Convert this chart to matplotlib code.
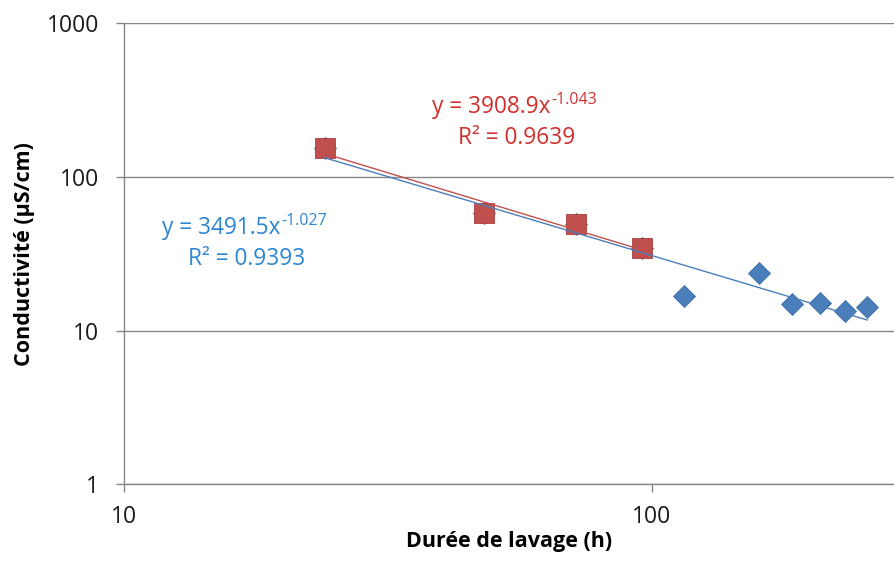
import numpy as np
import matplotlib
matplotlib.use("Agg")
import matplotlib.pyplot as plt
from matplotlib.ticker import FixedLocator, NullLocator

plt.rcParams['font.family'] = ['Open Sans', 'DejaVu Sans']

# ========== données ==========
duree_all = [24, 48, 72, 96, 115, 160, 184, 208, 232, 256]
cond_all = [155, 58.3, 49.2, 34.7, 16.8, 23.7, 14.9, 15.1, 13.4, 14.3]
duree_sub = [24, 48, 72, 96]
cond_sub = [155, 58.3, 49.2, 34.7]

# coefficients des courbes de tendance
fit_all = (3491.5, -1.027, 0.9393)
fit_sub = (3908.9, -1.043, 0.9639)
# =============================

blue = '#4A7EBB'
red = '#C0504D'
grid_col = '#868686'
W, H = 895, 561

fig = plt.figure(figsize=(W / 100, H / 100), dpi=100)
ax = fig.add_axes([0.1385, 0.1365, 0.8615, 0.822])
ax.set_xscale('log')
ax.set_yscale('log')
ax.set_xlim(10, 289)
ax.set_ylim(1, 1000)

# points
ax.plot(duree_all, cond_all, linestyle='none', marker='D', markersize=11.7,
        color=blue, markeredgecolor='#3F6FA8', markeredgewidth=0.6, zorder=3)
ax.plot(duree_sub, cond_sub, linestyle='none', marker='s', markersize=15,
        color=red, markeredgecolor='#A5403D', markeredgewidth=0.6, zorder=4)

# courbes de tendance
xa = np.array([min(duree_all), max(duree_all)])
ax.plot(xa, fit_all[0] * xa ** fit_all[1], color=blue, lw=1.0, zorder=5)
xs = np.array([min(duree_sub), max(duree_sub)])
ax.plot(xs, fit_sub[0] * xs ** fit_sub[1], color=red, lw=1.0, zorder=5)


# étiquettes des équations (exposant en petit, décalé vers le haut)
def equation(x_px, base_px, coef, expo, col):
    t = fig.text(x_px / W, 1 - base_px / H, f"y = {coef}x", color=col,
                 fontsize=16.3, ha='left', va='baseline')
    fig.canvas.draw()
    bb = t.get_window_extent()
    fig.text(bb.x1 / W + 0.001, 1 - (base_px - 9) / H, f"{expo}", color=col,
             fontsize=11.5, ha='left', va='baseline')


equation(432, 113, fit_sub[0], fit_sub[1], '#D0302E')
fig.text(517 / W, 1 - 144 / H, f"R² = {fit_sub[2]}", color='#D0302E',
         fontsize=16.3, ha='center', va='baseline')
equation(162, 234, fit_all[0], fit_all[1], '#2C86D2')
fig.text(247 / W, 1 - 265 / H, f"R² = {fit_all[2]}", color='#2C86D2',
         fontsize=16.3, ha='center', va='baseline')

# axes
ax.yaxis.set_major_locator(FixedLocator([1, 10, 100, 1000]))
ax.xaxis.set_major_locator(FixedLocator([10, 100]))
ax.xaxis.set_minor_locator(NullLocator())
ax.yaxis.set_minor_locator(NullLocator())
ax.set_yticklabels(['1', '10', '100', '1000'])
ax.set_xticklabels(['10', '100'])
ax.grid(axis='y', color=grid_col, lw=1.0)
ax.set_axisbelow(True)
for s in ['top', 'right']:
    ax.spines[s].set_visible(False)
for s in ['left', 'bottom']:
    ax.spines[s].set_color(grid_col)
    ax.spines[s].set_linewidth(1.0)
ax.tick_params(axis='both', colors=grid_col, labelcolor='#1a1a1a', labelsize=16.5,
               length=6, width=1.0)
ax.tick_params(axis='x', pad=9)
ax.tick_params(axis='y', pad=12)

ax.set_xlabel('Durée de lavage (h)', fontsize=15.5, fontweight='bold', labelpad=1)
ax.set_ylabel('Conductivité (µS/cm)', fontsize=15.5, fontweight='bold', labelpad=8)

fig.savefig('out.png', dpi=100)
